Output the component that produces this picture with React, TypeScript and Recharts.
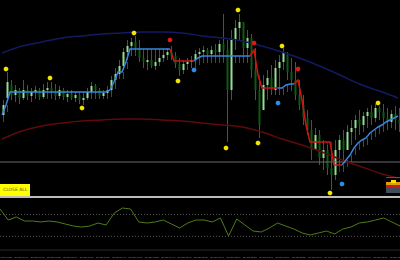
import {
  ComposedChart,
  LineChart,
  Line,
  Bar,
  XAxis,
  YAxis,
  ReferenceLine,
} from "recharts";

// price candles, index 0..99
const highs = [
  100, 128, 120, 115, 112, 120, 115, 112, 114, 112,
  116, 118, 118, 116, 114, 112, 110, 110, 108, 106,
  108, 112, 118, 116, 112, 110, 114, 124, 132, 140,
  152, 160, 162, 164, 160, 148, 144, 146, 144, 145,
  150, 152, 154, 148, 142, 140, 142, 144, 150, 152,
  154, 152, 154, 156, 160, 186, 160, 170, 180, 186,
  178, 170, 166, 152, 120, 125, 130, 135, 140, 145,
  152, 148, 142, 138, 120, 105, 90, 80, 72, 70,
  60, 55, 50, 60, 65, 70, 75, 80, 85, 90,
  88, 92, 95, 96, 94, 96, 92, 90, 94, 92,
];
const lows = [
  82, 100, 100, 98, 96, 100, 100, 98, 102, 100,
  102, 104, 104, 100, 102, 100, 98, 100, 98, 96,
  95, 100, 105, 106, 102, 101, 104, 108, 114, 122,
  130, 140, 145, 148, 138, 132, 130, 132, 130, 134,
  138, 140, 140, 132, 124, 126, 130, 132, 136, 140,
  142, 140, 142, 142, 144, 140, 58, 100, 150, 160,
  145, 138, 122, 100, 62, 90, 100, 105, 105, 110,
  130, 120, 110, 100, 90, 75, 65, 40, 50, 35,
  30, 25, 10, 20, 35, 40, 50, 55, 60, 65,
  68, 72, 75, 78, 80, 75, 70, 72, 70, 68,
];
const opens = [
  85, 102, 115, 105, 110, 102, 110, 104, 108, 110,
  103, 110, 112, 108, 104, 110, 103, 106, 102, 105,
  100, 102, 108, 114, 110, 104, 107, 110, 120, 126,
  134, 148, 154, 158, 152, 142, 138, 140, 134, 138,
  142, 145, 148, 144, 136, 130, 136, 138, 140, 146,
  148, 150, 146, 150, 148, 156, 150, 110, 160, 172,
  178, 152, 162, 130, 110, 90, 115, 122, 110, 132,
  138, 145, 128, 120, 105, 95, 82, 70, 50, 65,
  42, 50, 32, 25, 50, 60, 50, 68, 72, 80,
  75, 84, 88, 82, 92, 88, 82, 78, 86, 80,
];
const closes = [
  95, 118, 105, 110, 102, 110, 104, 108, 110, 103,
  110, 112, 108, 104, 110, 103, 106, 102, 105, 100,
  102, 108, 114, 110, 104, 107, 110, 120, 126, 134,
  148, 154, 158, 152, 142, 138, 140, 134, 138, 142,
  145, 148, 144, 136, 130, 136, 138, 140, 146, 148,
  150, 146, 150, 148, 156, 150, 110, 160, 172, 178,
  152, 162, 130, 110, 75, 115, 122, 110, 132, 138,
  148, 128, 120, 105, 95, 82, 70, 50, 65, 42,
  50, 32, 25, 50, 60, 50, 68, 72, 80, 75,
  84, 88, 82, 92, 88, 82, 78, 86, 80, 76,
];

// trailing stop line, blue while up, red while down
const upTrend = [
  85, 95, 108, 108, 108, 108, 108, 108, 108, 108,
  108, 108, 108, 108, 108, 108, 108, 108, 108, 108,
  108, 108, 108, 108, 108, 108, 108, 110, 118, 128,
  128, 138, 151, 151, 151, 151, 151, 151, 151, 151,
  151, 151, 151, null, null, null, null, null, 139, 142,
  144, 144, 144, 144, 144, 144, 144, 144, 144, 144,
  144, 144, 144, null, null, null, null, null, null, 112,
  112, 115, 116, 116, null, null, null, null, null, null,
  null, null, null, null, null, 35, 40, 45, 52, 57,
  60, 62, 67, 70, 73, 75, 78, 80, 82, 84,
];
const downTrend = [
  null, null, null, null, null, null, null, null, null, null,
  null, null, null, null, null, null, null, null, null, null,
  null, null, null, null, null, null, null, null, null, null,
  null, null, null, null, null, null, null, null, null, null,
  null, null, 151, 139, 139, 139, 139, 139, 139, null,
  null, null, null, null, null, null, null, null, null, null,
  null, null, 144, 150, 125, 112, 112, 112, 112, 112,
  null, null, null, 116, 120, 100, 75, 58, 58, 58,
  58, 58, 58, 35, 35, 35, null, null, null, null,
  null, null, null, null, null, null, null, null, null, null,
];

// fractal / signal markers
const yellowIdx = [1, 12, 20, 33, 44, 56, 59, 64, 70, 82, 94];
const yellowVal = [131, 122, 92, 167, 119, 52, 190, 57, 154, 7, 97];
const redIdx = [42, 63, 74];
const redVal = [160, 157, 131];
const blueIdx = [48, 69, 85];
const blueVal = [130, 97, 16];

// long moving averages
const maIdx = [0, 5, 10, 15, 20, 25, 30, 35, 40, 45, 50, 55, 60, 65, 70, 75, 80, 85, 90, 95, 99];
const maNavy = [147, 154, 158, 162, 164, 166, 167, 168, 168, 167, 164, 162, 159, 154, 148, 141, 133, 124, 115, 108, 102];
const maRed = [61, 69, 74, 77, 79, 80, 81, 81, 80, 79, 77, 75, 73, 68, 61, 55, 48, 40, 33, 26, 22];

// oscillator window
const rsi = [
  79.9, 59.8, 65.3, 58, 58, 56.2, 58, 56.2, 52.5, 48.8,
  47, 48.8, 54.3, 50.7, 72.6, 81.7, 79.9, 56.2, 54.3, 56.2,
  59.8, 52.5, 45.2, 54.3, 59.8, 59.8, 56.2, 63.5, 30.6, 61.6,
  50.7, 39.7, 37.9, 45.2, 54.3, 48.8, 43.4, 36.1, 32.4, 36.1,
  39.7, 34.2, 43.4, 47, 54.3, 56.2, 59.8, 63.5, 56.2, 48.8,
];
const times = [
  "30 Jan 07:20", "30 Jan 07:40", "30 Jan 08:00", "30 Jan 08:20", "30 Jan 08:40",
  "30 Jan 09:00", "30 Jan 09:20", "30 Jan 09:40", "30 Jan 10:00", "30 Jan 10:20",
  "30 Jan 10:40", "30 Jan 11:00", "30 Jan 11:20", "30 Jan 11:40", "30 Jan 12:00",
  "30 Jan 12:20", "30 Jan 12:40", "30 Jan 13:00", "30 Jan 13:20", "30 Jan 13:40",
  "30 Jan 14:00", "30 Jan 14:20", "30 Jan 14:40", "30 Jan 15:00", "30 Jan 15:20",
];

const BAND = 7;

const priceData = highs.map((h, i) => {
  const yi = yellowIdx.indexOf(i);
  const ri = redIdx.indexOf(i);
  const bi = blueIdx.indexOf(i);
  const mi = maIdx.indexOf(i);
  const up = upTrend[i];
  const dn = downTrend[i];
  return {
    i,
    high: h,
    low: lows[i],
    open: opens[i],
    close: closes[i],
    range: [lows[i], h],
    up,
    dn,
    upBand: up != null ? [up - BAND, up] : null,
    dnBand: dn != null && up == null ? [dn - BAND, dn] : null,
    yDot: yi >= 0 ? yellowVal[yi] : null,
    rDot: ri >= 0 ? redVal[ri] : null,
    bDot: bi >= 0 ? blueVal[bi] : null,
    maNavy: mi >= 0 ? maNavy[mi] : null,
    maRed: mi >= 0 ? maRed[mi] : null,
  };
});

const oscData = rsi.map((v, k) => ({
  rsi: v,
  time: k % 2 === 0 ? times[k / 2] : "",
}));

const Candle = (props: any) => {
  const { x, y, width, height, payload } = props;
  if (!payload || height == null || isNaN(height)) return <g />;
  const top = Math.min(y, y + height);
  const h = Math.abs(height);
  const k = h / (payload.high - payload.low);
  const cx = Math.round(x + width / 2);
  const bodyTop = top + (payload.high - Math.max(payload.open, payload.close)) * k;
  const bodyH = Math.max(1, Math.abs(payload.open - payload.close) * k);
  const bull = payload.close >= payload.open;
  return (
    <g>
      <line x1={cx + 0.5} x2={cx + 0.5} y1={top} y2={top + h} stroke="#14761a" strokeWidth={1} />
      <rect x={cx - 0.5} y={bodyTop} width={2} height={bodyH} fill={bull ? "#8fe08f" : "#0d5a10"} />
    </g>
  );
};

const Hatch = (color: string) => (props: any) => {
  const { x, y, width, height } = props;
  if (!height || isNaN(height)) return <g />;
  return <rect x={Math.round(x + width / 2)} y={Math.min(y, y + height)} width={1} height={Math.abs(height)} fill={color} />;
};

const marker = (color: string) => (props: any) => {
  const { cx, cy, index } = props;
  if (cy == null || isNaN(cy)) return <g key={index} />;
  return (
    <g key={index}>
      <circle cx={cx} cy={cy} r={2.3} fill={color} />
      <line x1={cx - 2.5} x2={cx + 2.5} y1={cy} y2={cy} stroke={color} strokeWidth={0.6} />
      <line x1={cx} x2={cx} y1={cy - 2.5} y2={cy + 2.5} stroke={color} strokeWidth={0.6} />
    </g>
  );
};

const TimeTick = (props: any) => {
  const { x, y, payload } = props;
  if (!payload || !payload.value) return <g />;
  return (
    <text x={x - 2} y={y} fontSize={2.4} fill="#9a9a9a" fontFamily="Liberation Sans">
      {payload.value}
    </text>
  );
};

export default function App() {
  return (
    <div style={{ position: "absolute", left: 0, top: 0, width: 400, height: 260, background: "#000", overflow: "hidden" }}>
      <div style={{ position: "absolute", left: 0, top: 0 }}>
        <ComposedChart width={400} height={196} data={priceData} margin={{ top: 0, right: 0, bottom: 0, left: 0 }}>
          <XAxis dataKey="i" hide />
          <XAxis dataKey="i" xAxisId="h" hide />
          <XAxis dataKey="i" xAxisId="h2" hide />
          <YAxis hide domain={[4, 200]} />
          <ReferenceLine y={38} stroke="#6a6a6a" strokeWidth={1} />
          <Line dataKey="maNavy" type="monotone" stroke="#121a62" strokeWidth={1.5} dot={false} activeDot={false} connectNulls isAnimationActive={false} />
          <Line dataKey="maRed" type="monotone" stroke="#5e0a0a" strokeWidth={1.5} dot={false} activeDot={false} connectNulls isAnimationActive={false} />
          <Bar dataKey="upBand" xAxisId="h" barSize={1} shape={Hatch("#1d4f8c")} isAnimationActive={false} />
          <Bar dataKey="dnBand" xAxisId="h2" barSize={1} shape={Hatch("#701212")} isAnimationActive={false} />
          <Bar dataKey="range" barSize={3} shape={Candle} isAnimationActive={false} />
          <Line dataKey="up" type="linear" stroke="#3a86dc" strokeWidth={1.5} dot={false} activeDot={false} isAnimationActive={false} />
          <Line dataKey="dn" type="linear" stroke="#d01414" strokeWidth={1.5} dot={false} activeDot={false} isAnimationActive={false} />
          <Line dataKey="yDot" stroke="none" dot={marker("#f2e600")} activeDot={false} isAnimationActive={false} />
          <Line dataKey="rDot" stroke="none" dot={marker("#e41818")} activeDot={false} isAnimationActive={false} />
          <Line dataKey="bDot" stroke="none" dot={marker("#2f8de8")} activeDot={false} isAnimationActive={false} />
        </ComposedChart>
      </div>

      <div style={{ position: "absolute", left: 0, top: 196, width: 400, height: 2, background: "#bdbdbd" }} />

      <div style={{ position: "absolute", left: 0, top: 198 }}>
        <LineChart width={400} height={62} data={oscData} margin={{ top: 0, right: 0, bottom: 0, left: 0 }}>
          <XAxis dataKey="time" height={10} interval={0} tickLine={false} axisLine={{ stroke: "#2a2a2a" }} tick={TimeTick} />
          <YAxis hide domain={[5, 100]} />
          <ReferenceLine y={70} stroke="#5a5a5a" strokeDasharray="1 2" />
          <ReferenceLine y={30} stroke="#5a5a5a" strokeDasharray="1 2" />
          <Line dataKey="rsi" type="linear" stroke="#4f7c16" strokeWidth={1} dot={false} activeDot={false} isAnimationActive={false} />
        </LineChart>
      </div>

      <div
        style={{
          position: "absolute", left: 0, top: 184, width: 30, height: 12, background: "#ffff00",
          fontFamily: "DejaVu Sans", fontSize: 4.5, color: "#5a5a20", lineHeight: "12px", paddingLeft: 3, boxSizing: "border-box",
        }}
      >
        CLOSE ALL
      </div>

      <div style={{ position: "absolute", left: 386, top: 177, width: 14, height: 1, background: "#555" }} />
      <div style={{ position: "absolute", left: 386, top: 182, width: 14, height: 3, background: "#e0a000" }} />
      <div style={{ position: "absolute", left: 391, top: 180, width: 5, height: 3, background: "#ffdc00" }} />
      <div style={{ position: "absolute", left: 386, top: 185, width: 14, height: 3, background: "#c81a1a" }} />
      <div style={{ position: "absolute", left: 386, top: 188, width: 14, height: 5, background: "#3e4c5c" }} />
    </div>
  );
}
